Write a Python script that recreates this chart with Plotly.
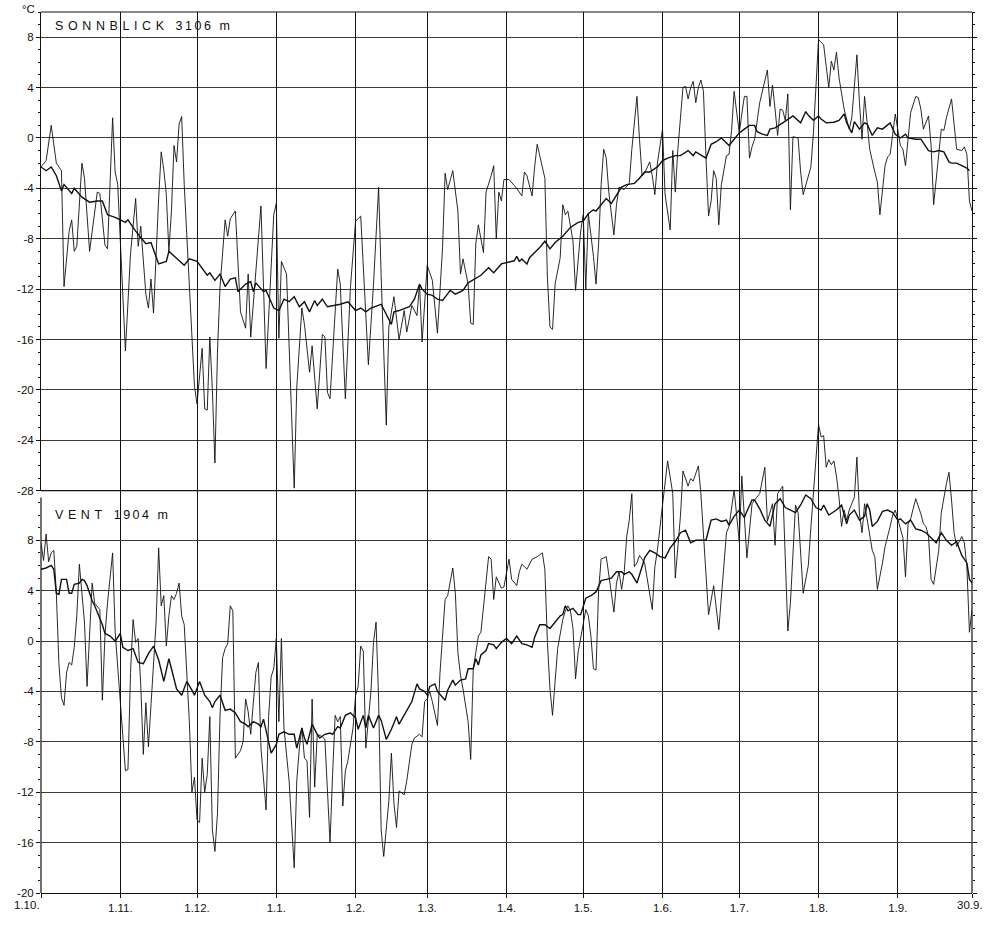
import plotly.graph_objects as go

# ---------------- data (day 0 = 1 October, day 364 = 30 September) ----------------
month_ticks = [0, 31, 61, 92, 123, 151, 182, 212, 243, 273, 304, 335, 364]
month_labels = ["1.10.", "1.11.", "1.12.", "1.1.", "1.2.", "1.3.", "1.4.", "1.5.",
                "1.6.", "1.7.", "1.8.", "1.9.", "30.9."]

sonn_ticks = [-28, -24, -20, -16, -12, -8, -4, 0, 4, 8]
vent_ticks = [-20, -16, -12, -8, -4, 0, 4, 8]

# Sonnblick 3106 m : daily mean temperature (day, degC)
sonn_daily = [
    (0, -2.3), (2, -1.8), (4, 1.0), (5, -0.6), (6, -2.0), (7, -2.3), (8, -2.6), (9, -11.8),
    (11, -7.4), (12, -6.5), (13, -9.0), (14, -8.6), (16, -2.0), (17, -3.2), (19, -9.0),
    (22, -4.3), (23, -4.4), (25, -8.5), (26, -8.8), (28, 1.6), (29, -2.7), (30, -3.7),
    (31, -7.9), (33, -16.9), (35, -9.2), (37, -4.8), (38, -8.6), (39, -7.0), (41, -12.4),
    (42, -13.5), (43, -11.2), (44, -13.9), (46, -4.8), (47, -1.1), (48, -2.5), (49, -4.5),
    (50, -9.0), (51, -5.8), (52, -0.6), (53, -1.9), (54, 1.1), (55, 1.7), (56, -3.7),
    (58, -11.8), (60, -19.7), (61, -21.1), (63, -16.7), (64, -21.5), (65, -21.6),
    (66, -15.8), (67, -20.0), (68, -25.8), (69, -17.0), (70, -11.8), (72, -6.5), (73, -7.8),
    (74, -6.4), (76, -5.8), (78, -13.8), (80, -15.1), (81, -10.8), (82, -15.8), (84, -10.5),
    (86, -5.4), (88, -18.3), (89, -14.5), (91, -6.1), (92, -5.2), (93, -15.9), (94, -9.8),
    (96, -10.8), (99, -27.8), (100, -19.8), (102, -13.5), (103, -14.8), (105, -18.6),
    (106, -16.5), (108, -21.5), (110, -15.6), (111, -15.8), (112, -20.2), (113, -20.7),
    (116, -10.4), (117, -11.6), (119, -20.7), (121, -11.8), (123, -6.6), (125, -6.2),
    (128, -18.0), (130, -11.6), (132, -3.9), (133, -11.0), (135, -22.8), (136, -15.0),
    (138, -12.6), (140, -16.0), (142, -13.7), (143, -15.4), (145, -13.3), (147, -14.1),
    (148, -11.6), (149, -16.2), (151, -10.1), (153, -11.3), (155, -15.5), (157, -8.7),
    (158, -2.8), (159, -4.1), (161, -2.6), (163, -5.8), (164, -10.8), (165, -9.6),
    (167, -11.6), (168, -14.7), (169, -14.8), (170, -8.4), (171, -6.9), (173, -9.1),
    (174, -4.3), (176, -3.0), (177, -2.2), (178, -8.0), (179, -4.3), (180, -5.0), (181, -3.3),
    (183, -3.3), (186, -4.0), (188, -4.6), (189, -2.7), (190, -3.0), (192, -4.6), (193, -2.3),
    (194, -0.5), (196, -2.3), (197, -3.2), (198, -11.1), (199, -15.0), (200, -15.2),
    (201, -11.6), (203, -9.5), (204, -5.3), (205, -6.1), (206, -5.8), (208, -8.2),
    (209, -12.1), (211, -7.4), (212, -6.1), (213, -12.0), (214, -6.0), (216, -9.4),
    (217, -11.6), (218, -8.4), (219, -3.7), (220, -0.9), (221, -1.6), (222, -4.3), (224, -7.7),
    (225, -5.3), (226, -3.9), (228, -4.1), (230, -3.6), (231, -0.9), (233, 3.3), (234, -0.1),
    (235, -3.0), (236, -2.8), (238, -1.9), (239, -3.0), (240, -4.5), (241, -2.0), (243, 0.7),
    (244, -4.5), (245, -6.1), (246, -7.3), (247, -1.0), (248, -4.3), (249, -0.9), (251, 4.0),
    (252, 4.1), (253, 3.1), (254, 4.0), (255, 4.5), (256, 2.8), (257, 4.0), (258, 4.6),
    (259, 3.7), (260, -1.6), (261, -6.2), (262, -5.0), (263, -2.6), (264, -3.2), (265, -6.9),
    (266, -3.7), (268, -1.4), (269, -1.3), (270, 0.6), (271, 3.7), (272, 2.0), (273, 0.4),
    (274, 1.9), (275, 3.3), (276, 3.3), (277, -1.6), (278, -0.7), (279, -0.1), (281, 2.8),
    (284, 5.4), (285, 2.5), (286, 4.2), (287, 2.3), (288, 0.2), (289, 2.3), (290, 2.2),
    (291, 1.4), (292, 3.5), (293, -5.7), (294, 0.1), (296, 0.0), (297, -2.7), (298, -4.5),
    (300, -3.1), (301, -2.3), (302, 0.4), (303, 4.5), (304, 7.8), (305, 7.6), (306, 7.4),
    (307, 5.7), (308, 4.0), (309, 6.1), (310, 5.4), (311, 6.8), (312, 4.8), (314, 2.3),
    (315, 1.6), (316, 0.7), (317, 1.6), (318, 4.4), (319, 6.6), (320, 2.8), (321, -0.1),
    (322, 3.3), (323, 1.0), (324, -0.9), (326, -2.7), (327, -3.5), (328, -6.1), (330, -2.2),
    (331, -1.5), (332, -1.3), (334, 1.9), (335, 0.6), (336, -0.6), (337, -0.9), (338, -2.2),
    (339, -0.1), (340, 2.0), (342, 3.3), (343, 3.2), (344, 2.3), (345, 0.7), (347, 1.75),
    (348, -0.6), (349, -5.3), (351, -1.6), (352, 0.7), (353, 0.6), (354, 1.6), (356, 3.1),
    (357, 0.8), (358, -0.9), (360, -1.0), (361, -0.7), (362, -1.3), (363, -5.0), (364, -5.8),
]

# Sonnblick : long-term mean (day, degC)
sonn_mean = [
    (0, -2.3), (2, -2.6), (4, -2.3), (6, -3.0), (8, -4.2), (9, -3.7), (12, -4.4), (13, -4.0),
    (16, -4.7), (19, -5.1), (22, -5.0), (24, -5.0), (26, -6.1), (29, -6.3), (33, -6.7),
    (34, -6.5), (37, -7.4), (41, -8.4), (43, -8.3), (46, -10.0), (49, -9.8), (50, -9.0),
    (56, -10.1), (58, -9.6), (61, -9.8), (65, -10.9), (66, -10.7), (68, -11.3), (70, -10.8),
    (72, -11.8), (74, -11.2), (76, -11.1), (77, -12.2), (80, -11.6), (82, -11.4), (83, -12.2),
    (84, -11.5), (87, -12.2), (88, -12.1), (91, -13.5), (93, -13.7), (95, -12.8), (97, -13.0),
    (99, -12.6), (101, -13.4), (103, -13.0), (105, -13.8), (107, -12.9), (108, -13.3),
    (110, -12.8), (112, -13.4), (115, -13.3), (117, -13.2), (120, -13.0), (123, -13.7),
    (125, -13.5), (127, -13.8), (129, -13.5), (133, -13.2), (137, -14.8), (138, -13.8),
    (140, -13.7), (144, -13.4), (146, -12.8), (148, -11.6), (149, -12.0), (151, -12.4),
    (153, -12.5), (155, -12.8), (157, -12.9), (160, -12.1), (162, -12.4), (165, -12.1),
    (167, -11.5), (170, -11.1), (172, -10.9), (175, -10.3), (177, -10.7), (180, -10.0),
    (182, -9.9), (185, -9.75), (186, -9.4), (187, -9.8), (188, -9.6), (190, -10.0),
    (191, -9.5), (193, -9.1), (195, -8.7), (197, -8.2), (199, -8.8), (201, -8.3), (204, -7.8),
    (207, -7.1), (210, -6.7), (212, -6.6), (214, -6.0), (216, -5.7), (217, -5.8), (219, -5.3),
    (221, -4.8), (223, -5.2), (225, -4.5), (227, -3.9), (229, -3.7), (232, -3.6), (234, -3.2),
    (236, -2.7), (238, -2.7), (241, -2.3), (243, -1.8), (245, -1.6), (248, -1.4), (250, -1.4),
    (253, -1.0), (255, -1.4), (256, -1.1), (260, -1.6), (262, -0.5), (264, -0.3), (266, 0.0),
    (269, -0.6), (271, -0.1), (273, 0.4), (275, 0.7), (277, 1.0), (279, 1.0), (280, 0.5),
    (282, 0.3), (284, 0.2), (285, 0.7), (287, 0.8), (290, 1.2), (292, 1.5), (294, 1.75),
    (297, 1.2), (299, 2.1), (300, 1.8), (302, 1.4), (304, 1.75), (305, 1.5), (307, 1.2),
    (310, 1.25), (312, 1.4), (314, 1.9), (315, 1.2), (317, 0.4), (318, 1.3), (320, 0.7),
    (322, 1.2), (323, 1.1), (325, 0.2), (327, 0.8), (329, 0.7), (331, 1.0), (332, 1.2),
    (334, 0.3), (336, 0.0), (338, 0.3), (339, 0.0), (342, -0.1), (344, -0.1), (347, -1.0),
    (349, -1.1), (351, -1.0), (353, -1.1), (355, -1.9), (356, -2.0), (358, -2.0), (360, -2.2),
    (362, -2.4), (363, -2.6),
]

# Vent 1904 m : daily mean temperature (day, degC)
vent_daily = [
    (0, 7.8), (1, 6.4), (2, 8.5), (3, 6.3), (4, 7.0), (5, 7.2), (6, 3.8), (7, -1.8), (8, -4.5),
    (9, -5.1), (10, -2.5), (11, -1.7), (12, -1.9), (13, -0.5), (14, 2.0), (15, 6.1), (16, 3.8),
    (17, 1.5), (18, -3.6), (19, 0.2), (20, 4.6), (21, 3.0), (23, 2.5), (24, -4.7), (25, 0.4),
    (26, 3.0), (28, 7.0), (29, 0.7), (30, -2.2), (31, -5.3), (32, -8.0), (33, -10.3),
    (34, -10.2), (35, -2.5), (36, 1.7), (37, -0.1), (38, 0.2), (39, -3.5), (40, -9.0),
    (41, -4.9), (42, -8.4), (44, -2.2), (45, 1.5), (46, 7.4), (47, 2.8), (48, 3.6), (49, -0.4),
    (50, 2.0), (51, 3.6), (52, 3.3), (53, 3.8), (54, 4.6), (55, 2.0), (56, 1.3), (57, -2.5),
    (58, -6.4), (59, -12.0), (60, -10.8), (61, -14.2), (62, -14.4), (63, -9.3), (64, -12.0),
    (65, -10.6), (66, -6.0), (67, -15.0), (68, -16.7), (69, -13.7), (70, -5.9), (71, -1.3),
    (72, -0.6), (73, -0.2), (74, 2.8), (75, 2.4), (76, -9.3), (78, -8.7), (79, -8.0),
    (80, -4.6), (81, -5.6), (82, -7.4), (84, -2.5), (85, -1.7), (86, -8.5), (88, -13.4),
    (89, -6.0), (90, -2.8), (91, -2.2), (92, 0.2), (93, -6.4), (94, 0.2), (95, -6.9),
    (97, -11.1), (98, -14.5), (99, -18.0), (100, -11.1), (101, -8.5), (102, -6.9), (103, -9.3),
    (104, -9.5), (105, -14.0), (106, -4.6), (107, -11.6), (108, -7.4), (110, -7.6),
    (111, -7.8), (112, -12.4), (113, -16.0), (114, -10.6), (115, -5.9), (116, -6.4),
    (117, -6.0), (118, -13.1), (119, -10.3), (120, -9.5), (122, -6.9), (123, -4.3),
    (124, -3.6), (125, -0.4), (126, -0.8), (127, -8.5), (128, -6.4), (129, -4.0), (130, -0.1),
    (131, 1.5), (132, -4.6), (133, -15.0), (134, -17.1), (136, -12.7), (137, -8.9),
    (138, -12.9), (139, -14.8), (140, -11.9), (142, -12.2), (143, -11.1), (145, -8.2),
    (146, -7.7), (148, -7.4), (149, -7.6), (150, -4.8), (151, -4.6), (152, -4.0), (153, -4.8),
    (155, -6.7), (156, -2.5), (157, 0.4), (158, 3.3), (159, 3.6), (161, 5.8), (162, 3.8),
    (163, -0.9), (164, -2.7), (165, -3.8), (167, -6.4), (168, -9.4), (169, -2.2), (171, 0.4),
    (172, 0.7), (174, 4.9), (175, 6.7), (176, 6.5), (177, 3.3), (178, 5.1), (180, 4.2),
    (181, 4.3), (182, 5.4), (183, 6.5), (184, 4.9), (186, 4.4), (187, 5.5), (188, 6.1),
    (190, 5.7), (191, 6.1), (192, 6.5), (194, 6.7), (196, 7.0), (197, 5.7), (198, -0.1),
    (199, -3.8), (200, -5.9), (201, -3.2), (202, -0.6), (204, 1.7), (205, 2.4), (206, 2.8),
    (207, 2.4), (208, 1.0), (209, -3.0), (210, -0.9), (212, 1.5), (213, 2.5), (214, 2.0),
    (215, 0.4), (216, -2.2), (217, -2.3), (218, 4.0), (219, 6.5), (221, 6.7), (222, 5.4),
    (223, 3.8), (224, 2.3), (225, 4.6), (226, 5.5), (227, 4.1), (228, 5.4), (229, 8.3),
    (230, 9.6), (231, 11.7), (232, 5.9), (233, 6.2), (234, 6.8), (236, 6.2), (239, 2.5),
    (240, 5.9), (241, 7.2), (242, 8.8), (243, 10.8), (245, 14.3), (247, 11.7), (248, 5.0),
    (250, 9.9), (251, 13.5), (253, 12.3), (254, 12.9), (255, 12.7), (257, 13.9), (258, 11.7),
    (261, 2.1), (263, 4.4), (265, 0.9), (268, 8.6), (269, 9.1), (271, 12.0), (273, 7.9),
    (274, 13.1), (276, 6.6), (278, 10.9), (279, 11.2), (281, 11.7), (283, 13.8), (284, 9.5),
    (286, 10.9), (287, 7.6), (288, 11.7), (290, 12.3), (292, 0.8), (293, 3.0), (295, 10.8),
    (296, 10.2), (298, 3.8), (300, 6.0), (301, 9.0), (302, 11.7), (304, 17.2), (305, 16.2),
    (306, 16.3), (307, 13.8), (308, 14.4), (309, 14.0), (310, 14.3), (311, 13.1), (312, 11.4),
    (313, 9.1), (314, 10.4), (315, 9.6), (316, 10.4), (318, 11.4), (319, 14.6), (320, 10.1),
    (321, 8.6), (322, 10.9), (324, 8.5), (325, 7.2), (326, 6.7), (327, 4.1), (329, 6.2),
    (330, 7.5), (332, 9.1), (333, 10.0), (334, 10.4), (336, 8.8), (337, 8.2), (338, 5.1),
    (339, 9.3), (340, 9.7), (342, 11.3), (344, 10.1), (345, 9.3), (346, 9.1), (347, 8.3),
    (348, 4.9), (349, 4.5), (351, 7.2), (352, 10.2), (354, 12.5), (355, 13.4), (356, 11.2),
    (357, 8.6), (358, 7.5), (360, 8.3), (361, 7.8), (362, 5.9), (363, 0.7), (364, 2.5),
]

# Vent : long-term mean (day, degC)
vent_mean = [
    (0, 5.7), (2, 5.8), (4, 6.0), (5, 5.7), (6, 3.8), (7, 3.7), (8, 4.9), (10, 4.9), (11, 3.8),
    (12, 3.8), (13, 4.5), (15, 4.6), (16, 4.9), (17, 4.8), (18, 4.4), (20, 3.2), (21, 2.8),
    (24, 1.3), (25, 0.6), (27, 0.4), (29, 0.0), (31, 0.6), (32, -0.5), (34, -0.75), (36, -0.6),
    (38, -1.7), (40, -1.8), (42, -1.0), (44, -0.4), (46, -1.5), (48, -3.2), (50, -1.4),
    (51, -2.2), (53, -3.8), (55, -4.3), (57, -3.2), (59, -3.9), (60, -4.3), (62, -3.2),
    (64, -4.3), (66, -4.8), (67, -5.3), (68, -4.8), (70, -4.3), (72, -5.5), (74, -5.4),
    (76, -5.7), (78, -6.4), (80, -6.6), (81, -6.8), (83, -6.4), (85, -6.6), (86, -6.8),
    (87, -6.2), (89, -8.0), (90, -8.9), (92, -8.2), (93, -7.4), (95, -7.2), (97, -7.4),
    (99, -7.4), (100, -8.5), (102, -6.9), (103, -7.7), (104, -8.2), (106, -6.6), (108, -7.4),
    (109, -7.7), (111, -7.4), (113, -7.3), (114, -7.4), (116, -6.8), (117, -6.9), (119, -5.9),
    (121, -5.7), (123, -6.1), (124, -7.0), (126, -5.9), (127, -6.9), (128, -5.9), (130, -6.9),
    (132, -5.9), (133, -6.3), (135, -7.8), (137, -7.0), (139, -6.0), (140, -6.6), (142, -5.9),
    (145, -4.8), (147, -3.4), (148, -3.8), (150, -4.0), (151, -4.3), (152, -3.6), (154, -3.4),
    (155, -4.0), (158, -4.7), (159, -3.9), (161, -3.1), (162, -3.5), (164, -3.1), (166, -3.0),
    (167, -2.2), (169, -2.2), (170, -1.4), (171, -1.9), (172, -1.1), (174, -0.75), (175, -0.2),
    (177, -0.3), (178, -0.6), (180, -0.1), (182, 0.2), (184, -0.2), (186, 0.4), (188, -0.2),
    (190, -0.3), (192, -0.5), (193, 0.3), (195, 1.3), (197, 1.3), (199, 1.0), (201, 1.5),
    (203, 2.0), (204, 2.1), (205, 2.8), (206, 2.4), (208, 2.6), (210, 2.1), (211, 2.1),
    (213, 3.4), (215, 3.6), (217, 3.9), (218, 4.4), (219, 4.8), (221, 4.9), (223, 5.0),
    (225, 5.5), (227, 5.5), (228, 5.3), (230, 5.5), (231, 5.3), (233, 4.6), (235, 5.9),
    (236, 6.6), (238, 7.2), (240, 7.0), (242, 6.7), (244, 6.6), (246, 7.4), (248, 7.9),
    (250, 8.6), (252, 8.8), (254, 7.8), (256, 8.0), (258, 8.0), (260, 8.0), (262, 9.6),
    (264, 9.7), (266, 9.5), (268, 9.6), (269, 9.2), (271, 9.9), (273, 10.4), (275, 9.8),
    (276, 10.3), (278, 11.2), (279, 11.2), (281, 10.5), (283, 9.6), (285, 9.1), (287, 10.9),
    (289, 11.3), (291, 10.6), (293, 10.4), (295, 10.2), (297, 10.8), (299, 11.6), (301, 11.3),
    (303, 10.6), (305, 10.4), (306, 10.8), (308, 10.0), (310, 10.3), (311, 10.4), (313, 10.8),
    (315, 9.3), (316, 10.0), (318, 10.4), (320, 9.6), (322, 9.9), (323, 10.9), (324, 10.4),
    (325, 9.1), (327, 9.5), (329, 10.3), (331, 10.4), (333, 10.2), (335, 9.6), (336, 9.7),
    (338, 9.3), (340, 9.6), (342, 8.9), (344, 8.8), (346, 8.6), (348, 8.2), (350, 7.8),
    (352, 8.6), (354, 8.0), (356, 7.6), (358, 7.9), (360, 6.8), (362, 6.2), (363, 4.9),
    (364, 4.6),
]

# ---------------- figure ----------------
FONT = "Liberation Sans, Arial, Helvetica, sans-serif"
INK = "#111111"


def unzip(pairs):
    return [p[0] for p in pairs], [p[1] for p in pairs]


fig = go.Figure()
for pairs, width, yax in [(sonn_daily, 0.9, "y"), (sonn_mean, 1.4, "y"),
                          (vent_daily, 0.9, "y2"), (vent_mean, 1.4, "y2")]:
    xs, ys = unzip(pairs)
    fig.add_trace(go.Scatter(x=xs, y=ys, mode="lines", xaxis="x", yaxis=yax,
                             line=dict(color=INK, width=width), hoverinfo="skip",
                             showlegend=False))
# dummy trace so that the right-hand tick axis of the lower panel is drawn
fig.add_trace(go.Scatter(x=[None], y=[None], xaxis="x", yaxis="y3", showlegend=False))

# pixel geometry of the reference: plot area from y=12 to y=903, 12.74 px per degC
plot_h = 926 - 12 - 23
plot_w = 989 - 41 - 15
px_per_deg = 12.74
vent_top = -20 + plot_h / px_per_deg
sonn_bottom_frac = (plot_h - 38 * px_per_deg) / plot_h

tickfont = dict(family=FONT, size=11.5, color=INK)

# first and last month labels are set as annotations so they stay inside the page
inner_labels = [""] + month_labels[1:-1] + [""]

fig.update_layout(
    width=989, height=926,
    margin=dict(l=41, r=15, t=12, b=23),
    paper_bgcolor="white", plot_bgcolor="rgba(0,0,0,0)",
    font=dict(family=FONT, color=INK),
    showlegend=False,
    xaxis=dict(domain=[0, 1], range=[0, 364], anchor="y2",
               tickmode="array", tickvals=month_ticks, ticktext=inner_labels,
               tickfont=tickfont, ticks="outside", ticklen=4, tickcolor=INK,
               showgrid=True, gridcolor=INK, gridwidth=1.2, zeroline=False,
               showline=True, linecolor=INK, linewidth=1),
    yaxis=dict(domain=[sonn_bottom_frac, 1], range=[-28, 10], anchor="x",
               tickmode="array", tickvals=sonn_ticks, ticktext=[str(v) for v in sonn_ticks],
               tickfont=tickfont, ticks="outside", ticklen=4, tickcolor=INK,
               minor=dict(tickmode="array", tickvals=list(range(-28, 11)), ticks="outside",
                          ticklen=2, tickcolor=INK, showgrid=False),
               showgrid=True, gridcolor="#3a3a3a", gridwidth=1, zeroline=False,
               showline=True, linecolor=INK, linewidth=1, mirror="ticks"),
    yaxis2=dict(domain=[0, 1], range=[-20, vent_top], anchor="x",
                tickmode="array", tickvals=vent_ticks, ticktext=[str(v) for v in vent_ticks],
                tickfont=tickfont, ticks="outside", ticklen=4, tickcolor=INK,
                minor=dict(tickmode="array", tickvals=list(range(-20, 12)), ticks="outside",
                           ticklen=2, tickcolor=INK, showgrid=False),
                showgrid=True, gridcolor="#3a3a3a", gridwidth=1, zeroline=False,
                showline=False),
    yaxis3=dict(overlaying="y2", side="right", anchor="x", range=[-20, vent_top],
                tickmode="array", tickvals=vent_ticks, showticklabels=False,
                ticks="outside", ticklen=4, tickcolor=INK,
                minor=dict(tickmode="array", tickvals=list(range(-20, 12)), ticks="outside",
                           ticklen=2, tickcolor=INK, showgrid=False),
                showgrid=False, zeroline=False, showline=False),
)

frame = dict(color=INK, width=1.2)
fig.add_shape(type="line", xref="x domain", yref="y domain", x0=0, x1=1, y0=1, y1=1, line=frame)
fig.add_shape(type="line", xref="x domain", yref="y domain", x0=0, x1=1, y0=0, y1=0, line=frame)
fig.add_shape(type="line", xref="x domain", yref="y2", x0=0, x1=0, y0=-20, y1=11.4, line=frame)
fig.add_shape(type="line", xref="x domain", yref="y2", x0=1, x1=1, y0=-20, y1=12, line=frame)

label_y = -(915 - 903) / plot_h
fig.add_annotation(text=month_labels[0], xref="paper", yref="paper",
                   x=(27 - 41) / plot_w, y=label_y, xanchor="center", yanchor="middle",
                   showarrow=False, font=tickfont)
fig.add_annotation(text=month_labels[-1], xref="paper", yref="paper",
                   x=(987 - 41) / plot_w, y=label_y, xanchor="right", yanchor="middle",
                   showarrow=False, font=tickfont)

fig.add_annotation(text="°C", xref="paper", yref="paper", x=-0.004, y=1.003,
                   xanchor="right", yanchor="middle", showarrow=False,
                   font=dict(family=FONT, size=11.5, color=INK))
fig.add_annotation(text='<span style="letter-spacing:4.6px">SONNBLICK</span>  '
                        '<span style="letter-spacing:2.5px">3106 m</span>',
                   xref="x", yref="y", x=4.5, y=8.9, xanchor="left", yanchor="middle",
                   showarrow=False, font=dict(family=FONT, size=12.5, color=INK))
fig.add_annotation(text='<span style="letter-spacing:4.6px">VENT</span>  '
                        '<span style="letter-spacing:2.5px">1904 m</span>',
                   xref="x", yref="y2", x=4.5, y=10.0, xanchor="left", yanchor="middle",
                   showarrow=False, font=dict(family=FONT, size=12.5, color=INK))

# the page's default body margin would shift the 989x926 figure; remove it
fig.write_html("out.html",
               config={"displayModeBar": False},
               post_script="document.body.style.margin='0';"
                           "document.body.style.overflow='hidden';")
